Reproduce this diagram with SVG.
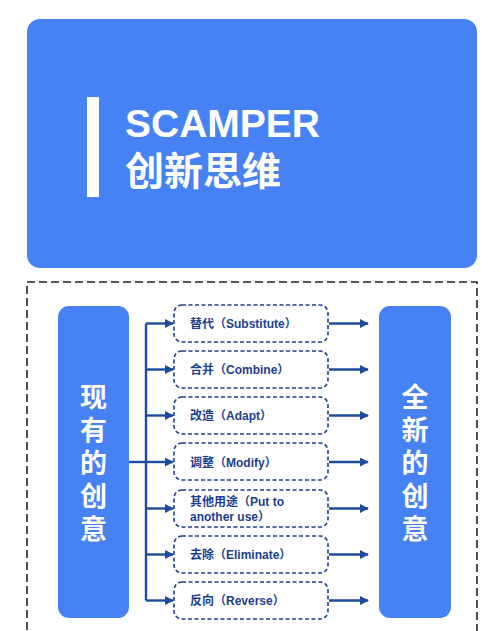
<svg xmlns="http://www.w3.org/2000/svg" width="500" height="631" viewBox="0 0 500 631">
<style>
.blue{fill:#4682f3}
.item{fill:#ffffff;stroke:#1e3f8c;stroke-width:1.6;stroke-dasharray:4 2.5}
.lbl{font-family:"Liberation Sans","Noto Sans CJK SC",sans-serif;font-weight:bold;font-size:12px;fill:#1d3f8f}
.vt{font-family:"Noto Sans CJK SC",sans-serif;font-weight:bold;font-size:27px;fill:#ffffff;writing-mode:vertical-rl;letter-spacing:6px}
.conn{stroke:#1e4b9c;stroke-width:2.4;fill:none}
</style>
<defs>
<marker id="ah" viewBox="0 0 10 10" refX="9" refY="5" markerWidth="9" markerHeight="9" markerUnits="userSpaceOnUse" orient="auto">
<path d="M0,0 L10,5 L0,10 z" fill="#1e4b9c"/>
</marker>
</defs>
<rect width="500" height="631" fill="#ffffff"/>
<g id="header">
<rect x="27" y="19" width="450" height="249" rx="13" class="blue"/>
<rect x="87" y="97" width="12" height="100" fill="#ffffff"/>
<text x="125" y="137" font-family="Liberation Sans,sans-serif" font-weight="bold" font-size="39" fill="#ffffff">SCAMPER</text>
<text x="125" y="185" font-family="Noto Sans CJK SC,sans-serif" font-weight="bold" font-size="39" fill="#ffffff">创新思维</text>
</g>
<rect x="27" y="282" width="450" height="360" fill="none" stroke="#222222" stroke-width="1.6" stroke-dasharray="8 4"/>
<g id="existing">
<rect x="58" y="306" width="71" height="312" rx="11" class="blue"/>
<text class="vt" x="93.5" y="383">现有的创意</text>
</g>
<g id="new">
<rect x="379" y="306" width="72" height="312" rx="11" class="blue"/>
<text class="vt" x="415" y="383">全新的创意</text>
</g>
<g id="s"><rect class="item" x="174" y="305" width="154" height="37" rx="8"/><text class="lbl" x="190" y="328">替代（Substitute）</text></g>
<g id="c"><rect class="item" x="174" y="351" width="154" height="37" rx="8"/><text class="lbl" x="190" y="374">合并（Combine）</text></g>
<g id="a"><rect class="item" x="174" y="397" width="154" height="37" rx="8"/><text class="lbl" x="190" y="420">改造（Adapt）</text></g>
<g id="m"><rect class="item" x="174" y="443" width="154" height="37" rx="8"/><text class="lbl" x="190" y="467">调整（Modify）</text></g>
<g id="p"><rect class="item" x="174" y="490" width="154" height="37" rx="8"/><text class="lbl" x="190" y="506">其他用途（Put to</text><text class="lbl" x="190" y="521">another use）</text></g>
<g id="e"><rect class="item" x="174" y="536" width="154" height="37" rx="8"/><text class="lbl" x="190" y="559">去除（Eliminate）</text></g>
<g id="r"><rect class="item" x="174" y="582" width="154" height="37" rx="8"/><text class="lbl" x="190" y="605">反向（Reverse）</text></g>
<g id="connectors" class="conn">
<path d="M129,462 H146"/>
<path d="M146,323.5 V600.5"/>
<path d="M146,323.5 H173" marker-end="url(#ah)"/>
<path d="M146,369.5 H173" marker-end="url(#ah)"/>
<path d="M146,415.5 H173" marker-end="url(#ah)"/>
<path d="M146,462 H173" marker-end="url(#ah)"/>
<path d="M146,508.5 H173" marker-end="url(#ah)"/>
<path d="M146,554.5 H173" marker-end="url(#ah)"/>
<path d="M146,600.5 H173" marker-end="url(#ah)"/>
<path d="M329,323.5 H368" marker-end="url(#ah)"/>
<path d="M329,369.5 H368" marker-end="url(#ah)"/>
<path d="M329,415.5 H368" marker-end="url(#ah)"/>
<path d="M329,462 H368" marker-end="url(#ah)"/>
<path d="M329,508.5 H368" marker-end="url(#ah)"/>
<path d="M329,554.5 H368" marker-end="url(#ah)"/>
<path d="M329,600.5 H368" marker-end="url(#ah)"/>
</g>
</svg>
